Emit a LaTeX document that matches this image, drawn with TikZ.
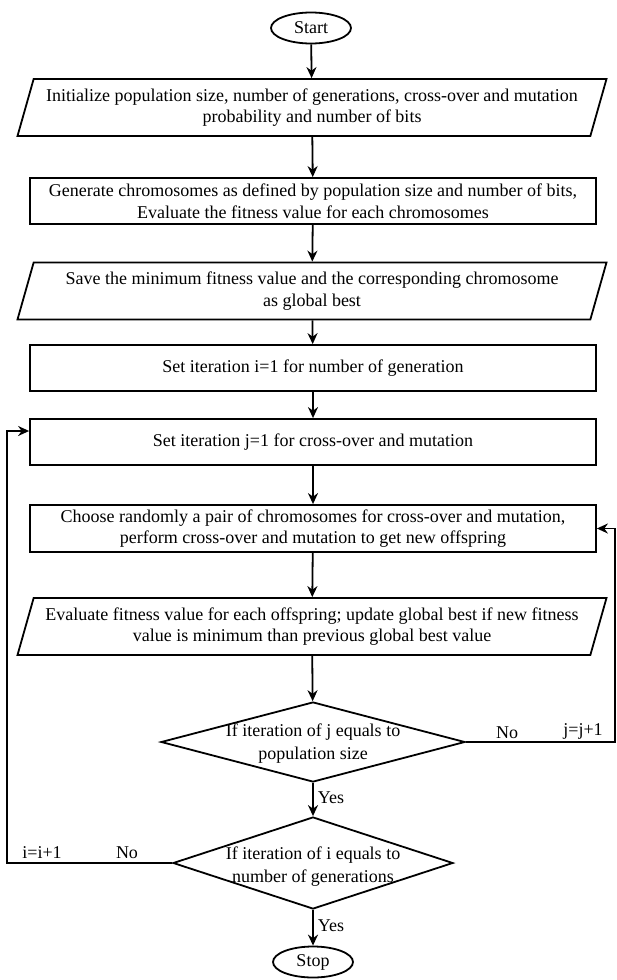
\documentclass[tikz,border=0pt]{standalone}
\usepackage{fontspec}
\setmainfont{Liberation Serif}
\usetikzlibrary{shapes.geometric,arrows.meta}
\begin{document}
\begin{tikzpicture}[x=1pt,y=-1pt,
  every node/.style={font=\fontsize{18}{21.5}\selectfont},
  box/.style={draw, line width=1.8pt, rectangle, minimum width=566pt, align=center, inner sep=0pt},
  para/.style={draw, line width=1.8pt, trapezium, trapezium left angle=67, trapezium right angle=113, trapezium stretches body, minimum width=589pt, minimum height=57pt, align=center, inner sep=0pt},
  term/.style={draw, line width=1.8pt, ellipse, minimum width=80pt, minimum height=31pt, inner sep=0pt},
  dia/.style={draw, line width=1.8pt, diamond, inner sep=0pt},
  txt/.style={align=center, inner sep=0pt, font=\fontsize{18}{23}\selectfont},
  arr/.style={line width=1.8pt, -{Stealth[length=11pt,width=10pt]}},
  lbl/.style={inner sep=0pt}
]
\useasboundingbox (0,0) rectangle (617,980);

\node[term] (start) at (311,28) {Start};
\node[para] (p1) at (312,107.5) {Initialize population size, number of generations, cross-over and mutation\\probability and number of bits};
\node[box, minimum height=46pt] (r2) at (313,201) {Generate chromosomes as defined by population size and number of bits,\\Evaluate the fitness value for each chromosomes};
\node[para] (p3) at (312,291) {Save the minimum fitness value and the corresponding chromosome\\as global best};
\node[box, minimum height=46pt] (r4) at (313,368) {Set iteration i=1 for number of generation};
\node[box, minimum height=46pt] (r5) at (313,442) {Set iteration j=1 for cross-over and mutation};
\node[box, minimum height=47pt] (r6) at (313,528.5) {Choose randomly a pair of chromosomes for cross-over and mutation,\\perform cross-over and mutation to get new offspring};
\node[para] (p7) at (312,626.5) {Evaluate fitness value for each offspring; update global best if new fitness\\value is minimum than previous global best value};
\node[dia, minimum width=304pt, minimum height=80pt] (d1) at (313,742) {};
\node[txt] (d1t) at (313,743.5) {If iteration of j equals to\\population size};
\node[dia, minimum width=280pt, minimum height=92pt] (d2) at (313,863) {};
\node[txt] (d2t) at (313,866.5) {If iteration of i equals to\\number of generations};
\node[term] (stop) at (313,962) {Stop};

\draw[arr] (start) -- (p1);
\draw[arr] (p1) -- (r2);
\draw[arr] (r2) -- (p3);
\draw[arr] (p3) -- (r4);
\draw[arr] (r4) -- (r5);
\draw[arr] (r5) -- (r6);
\draw[arr] (r6) -- (p7);
\draw[arr] (p7) -- (d1);
\draw[arr] (d1) -- node[lbl, right=4pt, pos=0.45] (y1) {Yes} (d2);
\draw[arr] (d2) -- node[lbl, right=4pt, pos=0.45] (y2) {Yes} (stop);

\coordinate (rx) at (615,742);
\draw[arr] (d1.east) -- (rx) |- (r6.east);
\node[lbl] (no1) at (507,733) {No};
\node[lbl] (jj) at (583,731) {j=j+1};

\coordinate (lx) at (7,863);
\draw[arr] (d2.west) -- (lx) |- ([yshift=11pt]r5.west);
\node[lbl] (ii) at (42,853) {i=i+1};
\node[lbl] (no2) at (127,853) {No};
\end{tikzpicture}
\end{document}
